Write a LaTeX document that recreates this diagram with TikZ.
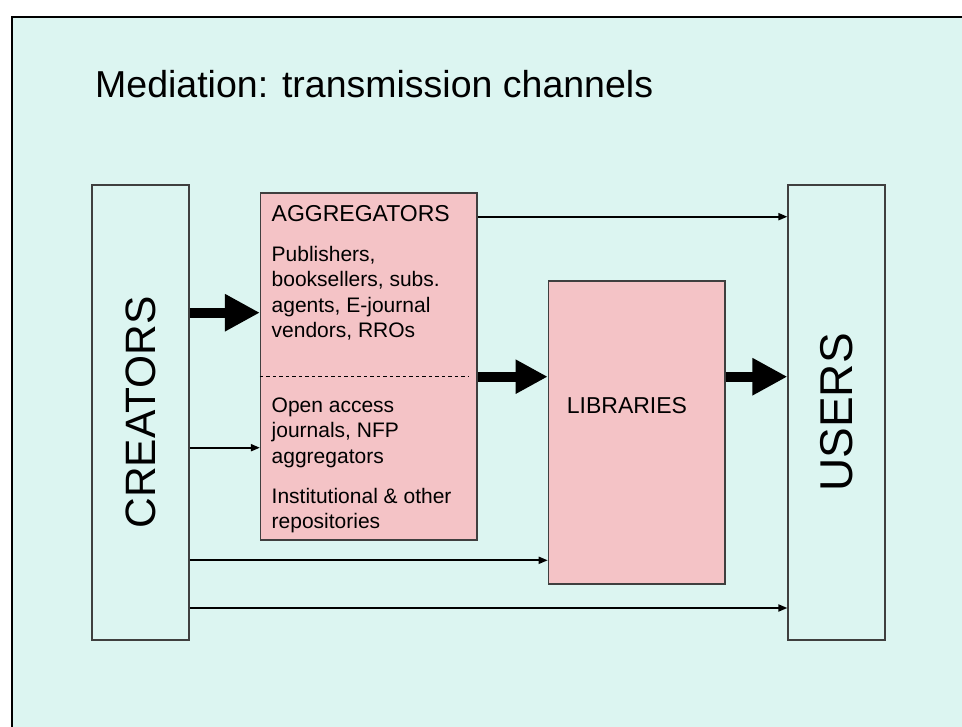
\documentclass[tikz,border=0pt]{standalone}
\usepackage{fontspec}
\setmainfont{Liberation Sans}
\usetikzlibrary{arrows.meta}

\definecolor{slidebg}{HTML}{DCF5F1}
\definecolor{boxpink}{HTML}{F4C3C6}
\definecolor{boxline}{HTML}{3F3F3F}

\newcommand{\px}[1]{\fontsize{#1}{1.2\dimexpr#1pt\relax}\selectfont}

\tikzset{
  sidebox/.style={draw=boxline, line width=1.2pt, fill=slidebg, rectangle,
    inner sep=0pt, minimum width=97pt, minimum height=455pt},
  pinkbox/.style={draw=boxline, line width=1.2pt, fill=boxpink, rectangle,
    inner sep=0pt},
  txt/.style={inner sep=0pt, anchor=base west, text=black},
  thinarrow/.style={line width=1.8pt, -{Triangle[length=9pt,width=7pt]}},
  bigarrow/.style={line width=10pt, -{Triangle[length=#1,width=#1]}},
  bigarrow/.default=35pt,
}

\begin{document}
\begin{tikzpicture}[x=1pt,y=-1pt]
  \useasboundingbox (0,0) rectangle (962,727);
  \clip (0,0) rectangle (962,727);
  \fill[white] (0,0) rectangle (962,727);
  % slide frame
  \draw[line width=2pt, fill=slidebg] (12,17) rectangle (980,745);

  % title
  \node[txt, font=\px{37.5}] (title) at (95,98) {Mediation: transmission channels};

  % main boxes
  \node[sidebox] (creators) at (140.5,412.5) {};
  \node[rotate=90, inner sep=0pt, font=\px{42.5}] (creatorslbl) at (creators.center) {CREATORS};
  \node[sidebox] (users) at (836.5,412.5) {};
  \node[rotate=90, inner sep=0pt, font=\px{46}] (userslbl) at (users.center) {USERS};

  \node[pinkbox, minimum width=216.5pt, minimum height=347pt] (agg) at (368.75,366.5) {};
  \node[pinkbox, minimum width=176.7pt, minimum height=303pt] (lib) at (636.65,432.5) {};

  % aggregator texts
  \node[txt, font=\px{23}] (aggtitle) at (271.5,221.7) {AGGREGATORS};
  \node[txt, font=\px{21}] (a1) at (271.5,261.7) {Publishers,};
  \node[txt, font=\px{21}] (a2) at (271.5,287.0) {booksellers, subs.};
  \node[txt, font=\px{21}] (a3) at (271.5,312.3) {agents, E-journal};
  \node[txt, font=\px{21}] (a4) at (271.5,337.6) {vendors, RROs};
  \node[txt, font=\px{21}] (b1) at (271.5,412.7) {Open access};
  \node[txt, font=\px{21}] (b2) at (271.5,438.0) {journals, NFP};
  \node[txt, font=\px{21}] (b3) at (271.5,463.3) {aggregators};
  \node[txt, font=\px{21}] (c1) at (271.5,503.3) {Institutional \& other};
  \node[txt, font=\px{21}] (c2) at (271.5,528.6) {repositories};

  \node[txt, font=\px{23}] (libtitle) at (566.7,413.3) {LIBRARIES};

  % row levels of the connectors
  \coordinate (r1) at (0,216.7);
  \coordinate (r2) at (0,312.7);
  \coordinate (r3) at (0,376.7);
  \coordinate (r4) at (0,447.7);
  \coordinate (r5) at (0,560.3);
  \coordinate (r6) at (0,608.0);
  \coordinate (dashend) at (469,376.7);

  % split between commercial and open channels
  \draw[line width=1pt, dash pattern=on 3.5pt off 3pt] (agg.west |- r3) -- (dashend);

  % connectors
  \draw[thinarrow] (agg.east |- r1) -- (users.west |- r1);
  \draw[bigarrow] (creators.east |- r2) -- (agg.west |- r2);
  \draw[bigarrow=32pt] (agg.east |- r3) -- (lib.west |- r3);
  \draw[bigarrow] (lib.east |- r3) -- (users.west |- r3);
  \draw[thinarrow] (creators.east |- r4) -- (agg.west |- r4);
  \draw[thinarrow] (creators.east |- r5) -- (lib.west |- r5);
  \draw[thinarrow] (creators.east |- r6) -- (users.west |- r6);
\end{tikzpicture}
\end{document}
